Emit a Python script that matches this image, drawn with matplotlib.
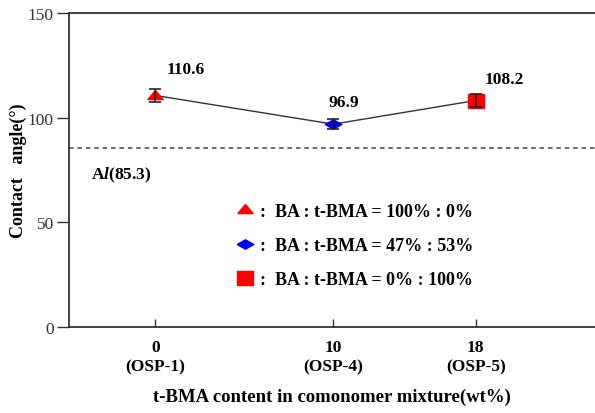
import matplotlib.pyplot as plt
import numpy as np

# Data
x_vals = [0, 10, 18]
angles = [110.6, 96.9, 108.2]
errors = [3.0, 2.5, 3.2]
colors = ["red", "blue", "red"]
tick_labels = ["0\n(OSP-1)", "10\n(OSP-4)", "18\n(OSP-5)"]
legend_labels = [":  BA : t-BMA = 100% : 0%",
                 ":  BA : t-BMA = 47% : 53%",
                 ":  BA : t-BMA = 0% : 100%"]
al_value = 85.3

# flattened marker shapes like the original
tri = [(-1.5, -0.8), (1.5, -0.8), (0, 1.0), (-1.5, -0.8)]
dia = [(-1.6, 0), (0, 0.9), (1.6, 0), (0, -0.9), (-1.6, 0)]
sq = [(-1.2, -1), (1.2, -1), (1.2, 1), (-1.2, 1), (-1.2, -1)]
markers = [tri, dia, sq]
sizes = [11, 12, 12]

plt.rcParams["font.family"] = ["Liberation Serif", "DejaVu Serif"]
plt.rcParams["mathtext.fontset"] = "custom"
plt.rcParams["mathtext.it"] = "Liberation Serif:italic:bold"
plt.rcParams["mathtext.rm"] = "Liberation Serif:bold"

fig = plt.figure(figsize=(5.95, 4.14), dpi=100)
ax = fig.add_axes([69 / 595, 1 - 328 / 414, 1 - 69 / 595, 314 / 414])

# connecting line + error bars
ax.plot(x_vals, angles, color="#333333", lw=1.0, zorder=2)
ax.errorbar(x_vals, angles, yerr=errors, fmt="none", ecolor="#222222",
            elinewidth=1.2, capsize=4, capthick=1.2, zorder=4)
for xv, yv, m, c, s, lab in zip(x_vals, angles, markers, colors, sizes, legend_labels):
    ax.plot(xv, yv, marker=m, color=c, ms=s, ls="none", label=lab, zorder=3,
            markeredgecolor=c)

# value labels
offsets = [(1.7, 12.5), (0.6, 10.5), (1.6, 10.5)]
for xv, yv, (dx, dy) in zip(x_vals, angles, offsets):
    ax.text(xv + dx, yv + dy, f"{yv}", ha="center", va="center",
            fontsize=12.5, fontweight="bold")

# reference line
ax.axhline(al_value, color="#444444", ls=(0, (3, 2.5)), lw=1.1, zorder=1)
ax.text(-3.6, al_value - 12.5, r"A$\mathit{l}$(85.3)", fontsize=12.5,
        fontweight="bold", ha="left", va="center")

ax.set_xlim(-4.85, 24.7)
ax.set_ylim(0, 150)
ax.set_yticks([0, 50, 100, 150])
ax.set_xticks(x_vals)
ax.set_xticklabels(tick_labels, fontweight="bold", fontsize=12.5)
ax.tick_params(axis="x", direction="in", length=6, width=1, pad=9, colors="#333333",
               labelcolor="black")
ax.tick_params(axis="y", direction="out", length=9, width=1, labelsize=12.5,
               colors="#333333", labelcolor="#333333", pad=2)

ax.spines["right"].set_visible(False)
for s in ["left", "top", "bottom"]:
    ax.spines[s].set_color("#333333")
    ax.spines[s].set_linewidth(1.3)

ax.set_xlabel("t-BMA content in comonomer mixture(wt%)", fontsize=13.5,
              fontweight="bold", labelpad=10)
ax.set_ylabel("Contact   angle(°)", fontsize=13, fontweight="bold", labelpad=0.5)

ax.legend(loc="center", bbox_to_anchor=(0.54, 0.26), frameon=False,
          prop={"weight": "bold", "size": 13}, handletextpad=0.1,
          labelspacing=0.95, handlelength=1.4)

fig.savefig("out.png", dpi=100)
